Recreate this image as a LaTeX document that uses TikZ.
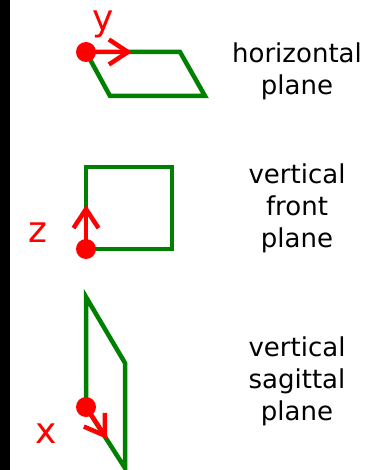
\documentclass[tikz,border=0pt]{standalone}
\usepackage{fontspec}
\setmainfont{DejaVu Sans}
\usepackage{tikz}
\usetikzlibrary{arrows.meta, positioning}
\definecolor{planegreen}{HTML}{008000}
\definecolor{axisred}{HTML}{FF0000}

\begin{document}
\begin{tikzpicture}[
    x=1pt, y=-1pt,
    planeline/.style={draw=planegreen, line width=4.5pt},
    origin/.style={circle, fill=axisred, minimum size=20pt, inner sep=0pt},
    axisarrow/.style={draw=axisred, line width=4.5pt,
                      -{Straight Barb[length=19pt, width=25pt]}},
    axislabel/.style={text=axisred, inner sep=0pt, font=\fontsize{36}{40}\selectfont},
    planetext/.style={align=center, inner sep=0pt, font=\fontsize{26}{32}\selectfont},
]
    \useasboundingbox (0,0) rectangle (381,470);
    \fill[black] (0,0) rectangle (10,470);

    % Origins and axis tips
    \coordinate (c1) at (86,52);
    \coordinate (c2) at (86,249);
    \coordinate (c3) at (86,407);
    \coordinate (tipy) at (132,52);
    \coordinate (tipz) at (86,205);
    \coordinate (tipx) at (107,439);

    % Horizontal plane
    \draw[planeline] (c1) -- (180,52) -- (205,96) -- (110,96) -- cycle;
    \draw[axisarrow] (c1) -- (tipy);
    \node[origin] (o1) at (c1) {};
    \node[axislabel] (ylab) at (103,24.5) {y};
    \node[planetext] (horiz) at (297,71) {horizontal\\plane};

    % Vertical front plane
    \draw[planeline] (c2) -- (86,167) -- (172,167) -- (172,249) -- cycle;
    \draw[axisarrow] (c2) -- (tipz);
    \node[origin] (o2) at (c2) {};
    \node[axislabel] (zlab) at (37.5,233) {z};
    \node[planetext] (front) at (297,208) {vertical\\front\\plane};

    % Vertical sagittal plane
    \draw[planeline] (c3) -- (86,297) -- (125,363) -- (125,468) -- cycle;
    \draw[axisarrow] (c3) -- (tipx);
    \node[origin] (o3) at (c3) {};
    \node[axislabel] (xlab) at (46.5,433.5) {x};
    \node[planetext] (sagit) at (297,381) {vertical\\sagittal\\plane};
\end{tikzpicture}
\end{document}
